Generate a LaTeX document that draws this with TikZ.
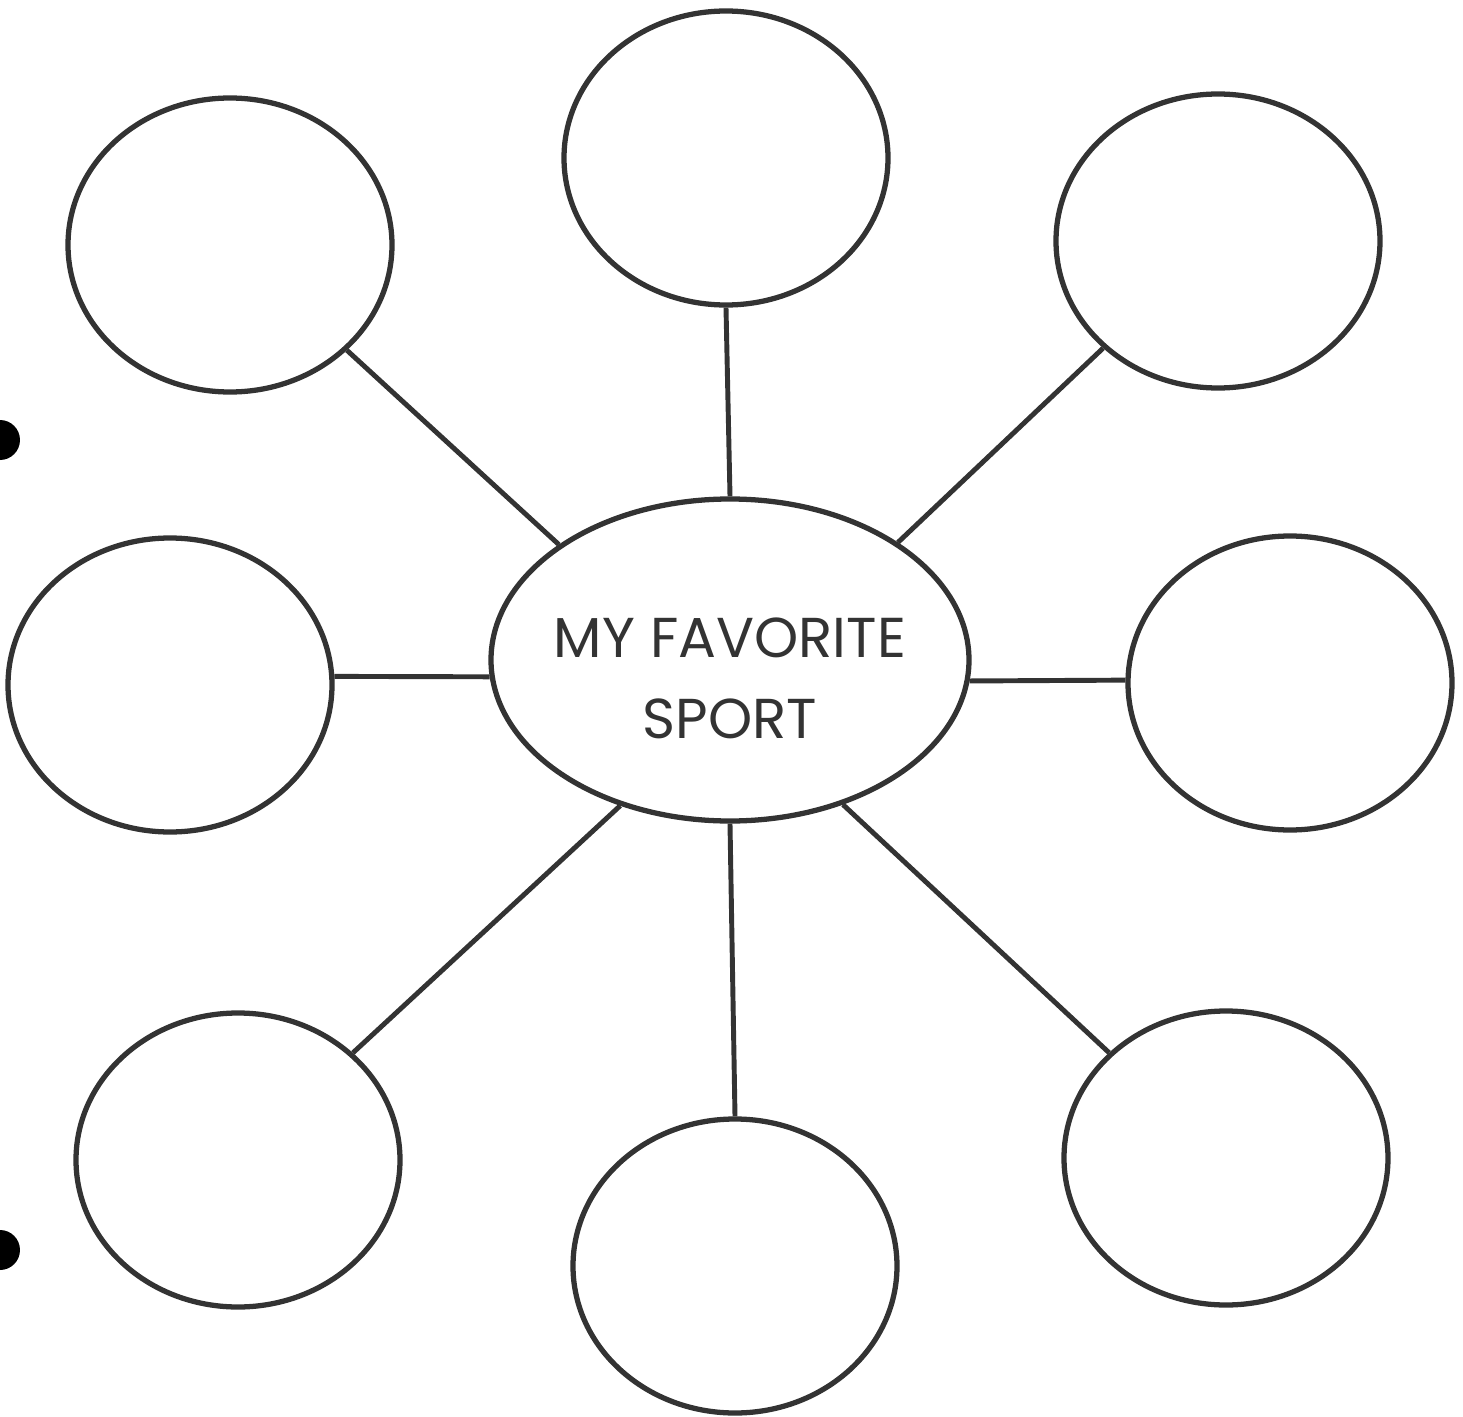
\documentclass[tikz,border=0pt]{standalone}
\usepackage{fontspec}
\setmainfont{Poppins}
\usetikzlibrary{shapes.geometric}

\definecolor{ink}{HTML}{333333}
\tikzset{
  bubble/.style={draw=ink, line width=1.5pt, ellipse, inner sep=0pt,
    minimum width=3.24cm, minimum height=2.94cm},
  hub/.style={draw=ink, line width=1.5pt, ellipse, inner sep=0pt,
    minimum width=4.78cm, minimum height=3.22cm},
  hubtext/.style={align=center, font=\fontsize{16}{23}\selectfont, text=ink},
  spoke/.style={draw=ink, line width=1.4pt}
}

\begin{document}
\begin{tikzpicture}
\useasboundingbox (0,0) rectangle (14.63,14.16);
% punch holes of the scan
\fill[black] (0,9.76) circle (0.2);
\fill[black] (0,1.66) circle (0.2);
% centre
\node[hub, label={[hubtext, yshift=-0.18cm]center:MY FAVORITE\\SPORT}] (sport) at (7.30,7.56) {};
% outer bubbles
\node[bubble] (top) at (7.26,12.58) {};
\node[bubble] (topleft) at (2.30,11.71) {};
\node[bubble] (topright) at (12.18,11.75) {};
\node[bubble] (left) at (1.70,7.31) {};
\node[bubble] (right) at (12.90,7.33) {};
\node[bubble] (botleft) at (2.38,2.56) {};
\node[bubble] (bottom) at (7.35,1.50) {};
\node[bubble] (botright) at (12.26,2.58) {};
% spokes: bubble / angle on hub / angle on bubble
\foreach \b/\p/\q in {top/90/270, topleft/146/-42, topright/35/223,
    left/184/3, right/-5/179, botleft/233/43, bottom/270/90, botright/308/138}
  \draw[spoke] (sport.\p) -- (\b.\q);
\end{tikzpicture}
\end{document}
